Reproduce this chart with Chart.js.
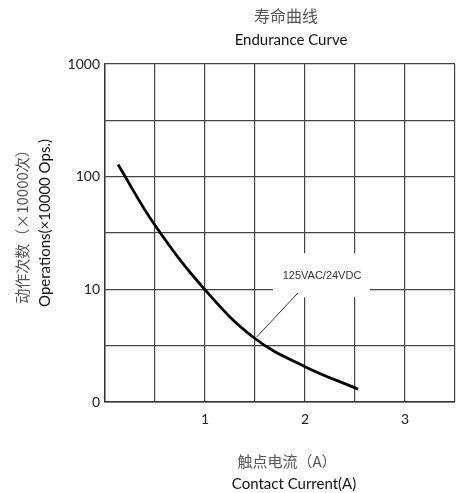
<!DOCTYPE html>
<html>
<head>
<meta charset="utf-8">
<script src="https://cdn.jsdelivr.net/npm/chart.js@4"></script>
<style>
  html, body { margin: 0; padding: 0; background: #fff; }
  #wrap { width: 460px; height: 493px; }
</style>
</head>
<body>
<div id="wrap"><canvas id="lifeChart" width="460" height="493"></canvas></div>
<script>
// ===============================
// DATA
// ===============================
const currentA = [0.13, 0.5, 1, 1.5, 2, 2.53];
const operations = [128, 37, 9.9, 3.66, 2.06, 1.3];
const yGridValues = [1, 3.1623, 10, 31.623, 100, 316.23, 1000];
const yTickLabels = { 1: "0", 10: "10", 100: "100", 1000: "1000" };
const xTickLabels = { 1: "1", 2: "2", 3: "3" };
const curveLabel = "125VAC/24VDC";

const latin = "Lato, 'Open Sans', sans-serif";
const cjk = "'Noto Sans CJK SC', sans-serif";

// ===============================
// Titles, axis names, leader label
// ===============================
const textPlugin = {
  id: "textPlugin",
  afterDraw(chart) {
    const ctx = chart.ctx;
    const x = chart.scales.x, y = chart.scales.y;
    ctx.save();
    ctx.textAlign = "center";
    ctx.textBaseline = "middle";

    // top title
    ctx.fillStyle = "#555";
    ctx.font = "16px " + cjk;
    ctx.fillText("寿命曲线", 286, 16);
    ctx.fillStyle = "#111";
    ctx.font = "15px " + latin;
    ctx.fillText("Endurance Curve", 291, 40);

    // x axis name
    ctx.fillStyle = "#555";
    ctx.font = "15px " + cjk;
    ctx.fillText("触点电流（A）", 287, 461);
    ctx.fillStyle = "#111";
    ctx.font = "15px " + latin;
    ctx.fillText("Contact Current(A)", 294, 484);

    // y axis name
    ctx.save();
    ctx.translate(22, 223);
    ctx.rotate(-Math.PI / 2);
    ctx.fillStyle = "#555";
    ctx.font = "15px " + cjk;
    ctx.fillText("动作次数（×10000次）", 0, 0);
    ctx.restore();
    ctx.save();
    ctx.translate(45, 223);
    ctx.rotate(-Math.PI / 2);
    ctx.fillStyle = "#111";
    ctx.font = "15px " + latin;
    ctx.fillText("Operations(×10000 Ops.)", 0, 0);
    ctx.restore();

    // label box (white patch over the grid) + leader line
    const bx1 = x.getPixelForValue(1.68), bx2 = x.getPixelForValue(2.65);
    const by1 = y.getPixelForValue(20.9), by2 = y.getPixelForValue(8.5);
    ctx.fillStyle = "#fff";
    ctx.fillRect(bx1, by1, bx2 - bx1, by2 - by1);

    ctx.strokeStyle = "#333";
    ctx.lineWidth = 1;
    ctx.beginPath();
    ctx.moveTo(x.getPixelForValue(1.93), y.getPixelForValue(9.3));
    ctx.lineTo(x.getPixelForValue(1.517), y.getPixelForValue(3.78));
    ctx.stroke();

    ctx.fillStyle = "#333";
    ctx.font = "11px 'Liberation Sans', Arial, sans-serif";
    ctx.fillText(curveLabel, x.getPixelForValue(2.17), y.getPixelForValue(13.1));
    ctx.restore();
  }
};

// ===============================
// CHART
// ===============================
new Chart(document.getElementById("lifeChart"), {
  type: "line",
  data: {
    datasets: [{
      data: currentA.map((c, i) => ({ x: c, y: operations[i] })),
      borderColor: "#000",
      borderWidth: 2.8,
      pointRadius: 0,
      tension: 0.4,
      fill: false
    }]
  },
  options: {
    responsive: false,
    animation: false,
    devicePixelRatio: 1,
    layout: { padding: { left: 60, right: 5, top: 64, bottom: 61 } },
    plugins: { legend: { display: false }, tooltip: { enabled: false }, title: { display: false } },
    scales: {
      x: {
        type: "linear",
        min: 0,
        max: 3.5,
        afterFit: s => { s.height = 30; s.paddingLeft = 0; s.paddingRight = 0; },
        ticks: {
          stepSize: 0.5,
          autoSkip: false,
          maxRotation: 0,
          padding: 9,
          color: "#222",
          font: { family: latin, size: 14 },
          callback: v => xTickLabels[v] || ""
        },
        grid: { color: "#444", lineWidth: 1.2, drawTicks: false },
        border: { color: "#333", width: 1.4 }
      },
      y: {
        type: "logarithmic",
        min: 1,
        max: 1000,
        afterFit: s => { s.width = 45; s.paddingTop = 0; s.paddingBottom = 0; },
        afterBuildTicks: s => { s.ticks = yGridValues.map(v => ({ value: v })); },
        ticks: {
          autoSkip: false,
          padding: 5,
          color: "#222",
          font: { family: latin, size: 14 },
          callback: v => {
            const r = Math.round(v);
            return [1, 10, 100, 1000].includes(r) && Math.abs(v - r) < 0.01 ? yTickLabels[r] : "";
          }
        },
        grid: { color: "#444", lineWidth: 1.2, drawTicks: false },
        border: { color: "#333", width: 1.4 }
      }
    }
  },
  plugins: [textPlugin]
});
</script>
</body>
</html>
